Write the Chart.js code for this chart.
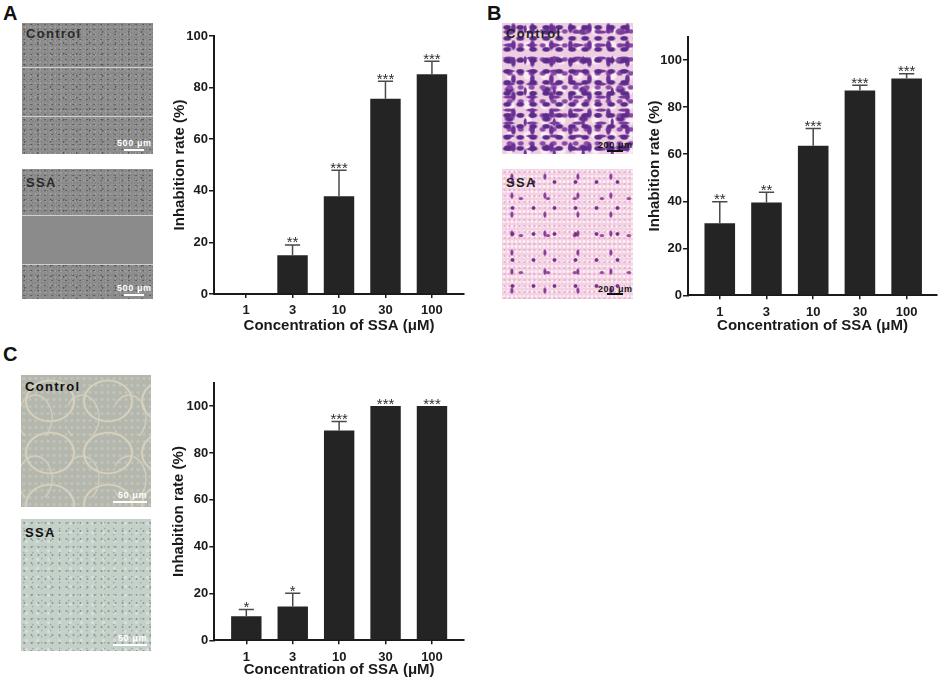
<!DOCTYPE html>
<html><head><meta charset="utf-8">
<script src="https://cdn.jsdelivr.net/npm/chart.js@4/dist/chart.umd.min.js"></script>
<style>
html,body{margin:0;padding:0;}
body{width:941px;height:681px;background:#fff;position:relative;overflow:hidden;font-family:"Liberation Sans",Arial,sans-serif;}
.letter{position:absolute;font-weight:bold;font-size:20px;line-height:20px;color:#111;}
.img{position:absolute;overflow:hidden;}
.lab{position:absolute;left:4px;font-weight:bold;font-size:13px;line-height:13px;letter-spacing:1.3px;}
.sbt{position:absolute;font-weight:bold;font-size:9px;line-height:9px;letter-spacing:0.6px;white-space:nowrap;}
.sbb{position:absolute;height:2px;}
.wline{position:absolute;left:0;width:100%;height:1px;background:#d0d0d0;}
.gray{background-color:#8e8e8e;background-image:
 radial-gradient(circle at 30% 30%, #5c5c5c 0 0.5px, transparent 1.1px),
 radial-gradient(circle at 70% 60%, #a6a6a6 0 0.5px, transparent 1.1px),
 radial-gradient(circle at 20% 80%, #585858 0 0.6px, transparent 1.2px),
 radial-gradient(circle at 60% 20%, #9e9e9e 0 0.5px, transparent 1px),
 radial-gradient(circle at 50% 50%, #7e7e7e 0 0.4px, transparent 0.9px);
 background-size:7px 5px,5px 7px,13px 11px,11px 3px,3px 4px;}
.flat{position:absolute;left:0;width:100%;background:#8b8b8b;}
.pinkA{background-color:#eecfe1;background-image:
 radial-gradient(ellipse 5px 3px at 40% 40%, #5b2a8a 55%, transparent 100%),
 radial-gradient(ellipse 3px 6px at 60% 30%, #6a3297 55%, transparent 100%),
 radial-gradient(ellipse 7px 2px at 30% 70%, #7a3a9e 55%, transparent 100%),
 radial-gradient(ellipse 2px 5px at 80% 20%, #743497 55%, transparent 100%),
 radial-gradient(ellipse 4px 3px at 70% 60%, #8c4aa8 50%, transparent 100%),
 radial-gradient(ellipse 6px 4px at 20% 30%, #5e2c8c 50%, transparent 100%),
 radial-gradient(circle at 50% 50%, #f9ecf3 0 3px, transparent 5px);
 background-size:13px 11px,19px 17px,23px 13px,29px 31px,11px 14px,37px 29px,17px 15px;}
.pinkB{background-color:#f3d2e4;background-image:
 radial-gradient(circle at 50% 50%, #7a2d8c 0 1.3px, transparent 2.4px),
 radial-gradient(ellipse 2px 4px at 30% 40%, #8a3c98 50%, transparent 100%),
 radial-gradient(ellipse 3px 2px at 70% 80%, #9a4aa2 50%, transparent 100%),
 radial-gradient(circle at 50% 50%, #e8b0cc 0 0.8px, transparent 1.4px),
 radial-gradient(circle at 50% 50%, #fbf0f6 0 1px, transparent 1.8px);
 background-size:21px 26px,33px 19px,27px 37px,5px 6px,4px 5px;}
.netA{background-color:#b4b7ad;background-image:
 radial-gradient(ellipse 26px 22px at 50% 50%, transparent 86%, #ddd7c4 92%, #c9c3b0 96%, transparent 100%),
 radial-gradient(ellipse 18px 24px at 30% 70%, transparent 88%, #d8d2c0 94%, transparent 100%),
 radial-gradient(circle at 50% 50%, #c2c4ba 0 1px, transparent 2px);
 background-size:58px 52px,47px 61px,6px 7px;}
.dotsC{background-color:#c5d0c8;background-image:
 radial-gradient(circle at 50% 50%, #8a9896 0 0.7px, transparent 1.3px),
 radial-gradient(circle at 30% 60%, #a0adaa 0 0.6px, transparent 1.2px),
 radial-gradient(circle at 50% 50%, #d6e0da 0 1px, transparent 2px);
 background-size:7px 8px,9px 6px,11px 9px;}
canvas{position:absolute;}
</style>
</head>
<body>
<div class="letter" style="left:3px;top:3px;">A</div>
<div class="letter" style="left:487px;top:3px;">B</div>
<div class="letter" style="left:3px;top:344px;">C</div>

<!-- A images -->
<div class="img gray" style="left:22px;top:23px;width:131px;height:131px;">
  <div class="wline" style="top:44px;"></div><div class="wline" style="top:93px;"></div>
  <div class="lab" style="top:4px;color:#2a2a2a;">Control</div>
  <div class="sbt" style="left:95px;top:116px;color:#fff;">500 μm</div>
  <div class="sbb" style="left:102px;top:126px;width:20px;background:#fff;"></div>
</div>
<div class="img gray" style="left:22px;top:169px;width:131px;height:130px;">
  <div class="flat" style="top:46px;height:49px;"></div>
  <div class="wline" style="top:46px;"></div><div class="wline" style="top:95px;"></div>
  <div class="lab" style="top:7px;color:#2a2a2a;">SSA</div>
  <div class="sbt" style="left:95px;top:115px;color:#fff;">500 μm</div>
  <div class="sbb" style="left:102px;top:125px;width:20px;background:#fff;"></div>
</div>

<!-- B images -->
<div class="img pinkA" style="left:502px;top:23px;width:131px;height:131px;">
  <div class="lab" style="top:4px;color:#222;">Control</div>
  <div class="sbt" style="left:96px;top:118px;color:#111;">200 μm</div>
  <div class="sbb" style="left:105px;top:127px;width:16px;background:#111;"></div>
</div>
<div class="img pinkB" style="left:502px;top:169px;width:131px;height:130px;">
  <div class="lab" style="top:7px;color:#222;">SSA</div>
  <div class="sbt" style="left:96px;top:116px;color:#111;">200 μm</div>
  <div class="sbb" style="left:105px;top:124px;width:16px;background:#111;"></div>
</div>

<!-- C images -->
<div class="img netA" style="left:21px;top:375px;width:130px;height:132px;">
  <div class="lab" style="top:5px;color:#111;">Control</div>
  <div class="sbt" style="left:97px;top:116px;color:#fff;">50 μm</div>
  <div class="sbb" style="left:92px;top:126px;width:34px;background:#fff;"></div>
</div>
<div class="img dotsC" style="left:21px;top:519px;width:130px;height:132px;">
  <div class="lab" style="top:7px;color:#111;">SSA</div>
  <div class="sbt" style="left:97px;top:115px;color:#fff;">50 μm</div>
  <div class="sbb" style="left:92px;top:125px;width:34px;background:#fff;"></div>
</div>

<canvas id="chartA" width="315" height="320" style="left:160px;top:20px;"></canvas>
<canvas id="chartB" width="311" height="320" style="left:630px;top:20px;"></canvas>
<canvas id="chartC" width="315" height="325" style="left:160px;top:360px;"></canvas>

<script>
// ---- data ----
const categories = ['1', '3', '10', '30', '100'];
const yTickValues = [0, 20, 40, 60, 80, 100];

const valuesA = [0, 15.0, 37.9, 75.7, 85.2];
const errorsA = [0, 4.0, 10.1, 6.8, 5.0];
const starsA  = ['', '**', '***', '***', '***'];

const valuesB = [30.6, 39.5, 63.6, 87.1, 92.2];
const errorsB = [9.2, 4.3, 7.4, 2.2, 2.0];
const starsB  = ['**', '**', '***', '***', '***'];

const valuesC = [10.3, 14.4, 89.6, 100, 100];
const errorsC = [2.8, 5.7, 3.8, 0, 0];
const starsC  = ['*', '*', '***', '***', '***'];

const FONT = '"Liberation Sans", Arial, sans-serif';
const INK = '#1a1a1a';

function errPlugin(errs, stars) {
  return {
    id: 'errbars',
    afterDatasetsDraw(chart) {
      const ctx = chart.ctx;
      const xs = chart.scales.x, ys = chart.scales.y;
      const ds = chart.data.datasets[0];
      const meta = chart.getDatasetMeta(0);
      ctx.save();
      ds.data.forEach((p, i) => {
        const e = errs[i];
        const cx = xs.getPixelForValue(p.x);
        const yv = ys.getPixelForValue(p.y);
        const ye = ys.getPixelForValue(p.y + e);
        const half = meta.data[i].width / 4;
        if (e > 0) {
          ctx.strokeStyle = '#4a4a4a';
          ctx.lineWidth = 1.5;
          ctx.beginPath();
          ctx.moveTo(cx, yv); ctx.lineTo(cx, ye);
          ctx.moveTo(cx - half, ye); ctx.lineTo(cx + half, ye);
          ctx.stroke();
        }
        if (stars[i]) {
          ctx.fillStyle = '#2e2e2e';
          ctx.font = '15px ' + FONT;
          ctx.textAlign = 'center';
          ctx.textBaseline = 'alphabetic';
          ctx.fillText(stars[i], cx, ye + 2.5);
        }
      });
      ctx.restore();
    }
  };
}

function buildChart(id, values, errs, stars, yMax, xMin, xMax, pad, yW, xH) {
  return new Chart(document.getElementById(id), {
    type: 'bar',
    data: {
      datasets: [{
        data: values.map((v, i) => ({ x: i, y: v })),
        backgroundColor: '#242424',
        borderWidth: 0,
        categoryPercentage: 1,
        barPercentage: 0.655
      }]
    },
    options: {
      responsive: false,
      animation: false,
      events: [],
      layout: { padding: pad },
      plugins: { legend: { display: false }, tooltip: { enabled: false } },
      scales: {
        x: {
          type: 'linear', min: xMin, max: xMax, offset: false,
          afterBuildTicks: s => { s.ticks = categories.map((c, i) => ({ value: i })); },
          afterFit: s => { s.height = xH; },
          grid: { display: true, offset: false, drawOnChartArea: false, drawTicks: true, tickLength: 4, color: INK, lineWidth: 1.5 },
          border: { display: true, color: INK, width: 2 },
          ticks: { callback: v => categories[v], autoSkip: false, maxRotation: 0, padding: 5,
                   color: INK, font: { family: FONT, size: 13, weight: 'bold' } },
          title: { display: true, text: 'Concentration of SSA (μM)', color: INK,
                   padding: { top: 4, bottom: 4 }, font: { family: FONT, size: 15, weight: 'bold' } }
        },
        y: {
          min: 0, max: yMax,
          afterBuildTicks: s => { s.ticks = yTickValues.map(v => ({ value: v })); },
          afterFit: s => { s.width = yW; },
          grid: { display: true, drawOnChartArea: false, drawTicks: true, tickLength: 5, color: INK, lineWidth: 1.5 },
          border: { display: true, color: INK, width: 2 },
          ticks: { padding: 1, color: INK, font: { family: FONT, size: 13, weight: 'bold' } },
          title: { display: true, text: 'Inhabition rate (%)', color: INK,
                   padding: { top: 4, bottom: 4 }, font: { family: FONT, size: 15, weight: 'bold' } }
        }
      }
    },
    plugins: [errPlugin(errs, stars)]
  });
}

buildChart('chartA', valuesA, errorsA, starsA, 100, -0.69, 4.69,
  { left: 6.5, top: 16, right: 11, bottom: 1 }, 47.5, 45);
buildChart('chartB', valuesB, errorsB, starsB, 110, -0.68, 4.65,
  { left: 12.3, top: 16.7, right: 4, bottom: 1 }, 45.7, 43.7);
buildChart('chartC', valuesC, errorsC, starsC, 110, -0.69, 4.69,
  { left: 5.8, top: 22.7, right: 11, bottom: 2 }, 48.5, 42.7);
</script>
</body></html>
